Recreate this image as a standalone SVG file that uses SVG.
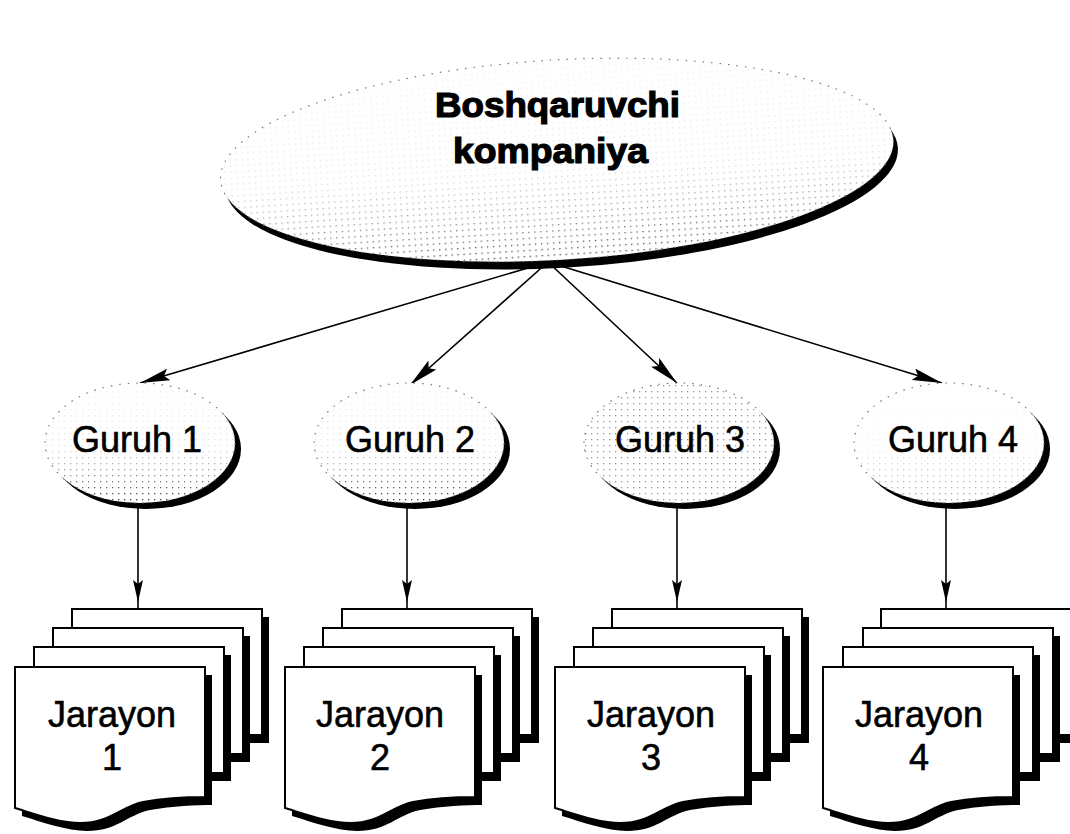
<svg xmlns="http://www.w3.org/2000/svg" xmlns:xlink="http://www.w3.org/1999/xlink" width="1070" height="834" viewBox="0 0 1070 834">
<style>
  .lbl{font-family:"Liberation Sans",Arial,sans-serif;font-size:36px;fill:#000;stroke:#000;stroke-width:0.6}
  .big{font-family:"Liberation Sans",Arial,sans-serif;font-size:35px;font-weight:bold;fill:#000;stroke:#000;stroke-width:1.2}
  .conn{stroke:#000;stroke-width:1.6;fill:none}
  .sheet{fill:#fff;stroke:#000;stroke-width:2}
  .shadow{fill:#000}
  .oval{fill:#fff;stroke:#777;stroke-width:1.2;stroke-dasharray:1.5 7}
</style>
<defs>
  <pattern id="dots" width="6" height="6" patternUnits="userSpaceOnUse">
    <rect x="2" y="2" width="1.3" height="1.3" fill="#000"/>
  </pattern>
  <linearGradient id="gFade" x1="0" y1="0" x2="0" y2="1">
    <stop offset="0" stop-color="#fff" stop-opacity="0.05"/>
    <stop offset="0.55" stop-color="#fff" stop-opacity="0.12"/>
    <stop offset="1" stop-color="#fff" stop-opacity="0.8"/>
  </linearGradient>
  <mask id="mFade" maskContentUnits="objectBoundingBox">
    <rect width="1" height="1" fill="url(#gFade)"/>
  </mask>
  <marker id="ah" viewBox="0 0 30 12" refX="30" refY="6" markerWidth="30" markerHeight="12" markerUnits="userSpaceOnUse" orient="auto">
    <path d="M0,0 L30,6 L0,12 L5,6 Z" fill="#000"/>
  </marker>
  <marker id="ahv" viewBox="0 0 22 10" refX="22" refY="5" markerWidth="22" markerHeight="10" markerUnits="userSpaceOnUse" orient="auto">
    <path d="M0,0 L22,5 L0,10 L4,5 Z" fill="#000"/>
  </marker>
  <path id="front" d="M0,0 H190 V130 C175,130 150,131 128,135 C105,140 95,156 65,156 C45,156 20,147 0,141 Z"/>
  <rect id="back" width="190" height="126"/>
  <ellipse id="gov" cx="0" cy="0" rx="95" ry="60"/>
</defs>

<!-- Top node -->
<g id="boshqaruvchi-kompaniya">
  <g transform="rotate(-3.4 557 160)">
    <ellipse cx="561" cy="168" rx="337" ry="100" class="shadow"/>
    <ellipse cx="557" cy="160" rx="337" ry="100" class="oval"/>
    <ellipse cx="557" cy="160" rx="337" ry="100" fill="url(#dots)" mask="url(#mFade)"/>
  </g>
  <text class="big" x="435" y="117" textLength="245" lengthAdjust="spacingAndGlyphs">Boshqaruvchi</text>
  <text class="big" x="453" y="163" textLength="195" lengthAdjust="spacingAndGlyphs">kompaniya</text>
</g>

<!-- Connectors -->
<g id="connectors">
  <line class="conn" x1="548" y1="262" x2="140" y2="383" marker-end="url(#ah)"/>
  <line class="conn" x1="548" y1="262" x2="410" y2="385" marker-end="url(#ah)"/>
  <line class="conn" x1="548" y1="262" x2="677" y2="383" marker-end="url(#ah)"/>
  <line class="conn" x1="548" y1="262" x2="942" y2="383" marker-end="url(#ah)"/>
  <path class="conn" d="M138,503 V602 V609" marker-mid="url(#ahv)"/>
  <path class="conn" d="M407,503 V602 V609" marker-mid="url(#ahv)"/>
  <path class="conn" d="M677,503 V602 V609" marker-mid="url(#ahv)"/>
  <path class="conn" d="M946,503 V602 V609" marker-mid="url(#ahv)"/>
</g>

<!-- Groups -->
<g id="guruh-1">
  <use href="#gov" x="146" y="449" class="shadow"/>
  <use href="#gov" x="140" y="443" class="oval"/>
  <use href="#gov" x="140" y="443" fill="url(#dots)" mask="url(#mFade)"/>
  <text class="lbl" x="137" y="452" text-anchor="middle">Guruh 1</text>
</g>
<g id="guruh-2">
  <use href="#gov" x="415" y="449" class="shadow"/>
  <use href="#gov" x="409" y="443" class="oval"/>
  <use href="#gov" x="409" y="443" fill="url(#dots)" mask="url(#mFade)"/>
  <text class="lbl" x="410" y="452" text-anchor="middle">Guruh 2</text>
</g>
<g id="guruh-3">
  <use href="#gov" x="685" y="449" class="shadow"/>
  <use href="#gov" x="679" y="443" class="oval"/>
  <use href="#gov" x="679" y="443" fill="url(#dots)" opacity="0.4"/>
  <text class="lbl" x="680" y="452" text-anchor="middle">Guruh 3</text>
</g>
<g id="guruh-4">
  <use href="#gov" x="955" y="449" class="shadow"/>
  <use href="#gov" x="949" y="443" class="oval"/>
  <use href="#gov" x="949" y="443" fill="url(#dots)" mask="url(#mFade)" opacity="0.5"/>
  <text class="lbl" x="953" y="452" text-anchor="middle">Guruh 4</text>
</g>

<!-- Process stacks -->
<g id="jarayon-1">
  <use href="#back" x="79" y="617" class="shadow"/>
  <use href="#back" x="72" y="609" class="sheet"/>
  <use href="#back" x="60" y="636" class="shadow"/>
  <use href="#back" x="53" y="628" class="sheet"/>
  <use href="#back" x="41" y="655" class="shadow"/>
  <use href="#back" x="34" y="647" class="sheet"/>
  <use href="#front" x="22" y="675" class="shadow"/>
  <use href="#front" x="15" y="667" class="sheet"/>
  <text class="lbl" x="112" y="727" text-anchor="middle">Jarayon</text>
  <text class="lbl" x="112" y="770" text-anchor="middle">1</text>
</g>
<g id="jarayon-2">
  <use href="#back" x="349" y="617" class="shadow"/>
  <use href="#back" x="342" y="609" class="sheet"/>
  <use href="#back" x="330" y="636" class="shadow"/>
  <use href="#back" x="323" y="628" class="sheet"/>
  <use href="#back" x="311" y="655" class="shadow"/>
  <use href="#back" x="304" y="647" class="sheet"/>
  <use href="#front" x="292" y="675" class="shadow"/>
  <use href="#front" x="285" y="667" class="sheet"/>
  <text class="lbl" x="380" y="727" text-anchor="middle">Jarayon</text>
  <text class="lbl" x="380" y="770" text-anchor="middle">2</text>
</g>
<g id="jarayon-3">
  <use href="#back" x="619" y="617" class="shadow"/>
  <use href="#back" x="612" y="609" class="sheet"/>
  <use href="#back" x="600" y="636" class="shadow"/>
  <use href="#back" x="593" y="628" class="sheet"/>
  <use href="#back" x="581" y="655" class="shadow"/>
  <use href="#back" x="574" y="647" class="sheet"/>
  <use href="#front" x="562" y="675" class="shadow"/>
  <use href="#front" x="555" y="667" class="sheet"/>
  <text class="lbl" x="651" y="727" text-anchor="middle">Jarayon</text>
  <text class="lbl" x="651" y="770" text-anchor="middle">3</text>
</g>
<g id="jarayon-4">
  <use href="#back" x="888" y="617" class="shadow"/>
  <use href="#back" x="881" y="609" class="sheet"/>
  <use href="#back" x="870" y="636" class="shadow"/>
  <use href="#back" x="863" y="628" class="sheet"/>
  <use href="#back" x="850" y="655" class="shadow"/>
  <use href="#back" x="843" y="647" class="sheet"/>
  <use href="#front" x="830" y="675" class="shadow"/>
  <use href="#front" x="823" y="667" class="sheet"/>
  <text class="lbl" x="919" y="727" text-anchor="middle">Jarayon</text>
  <text class="lbl" x="919" y="770" text-anchor="middle">4</text>
</g>
</svg>
